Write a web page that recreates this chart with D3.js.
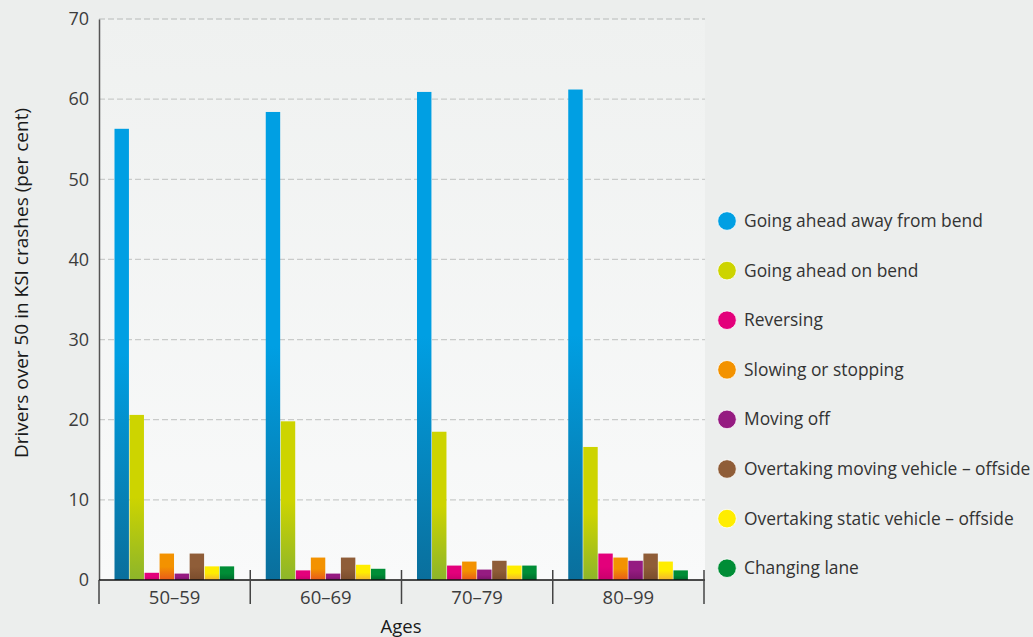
<!DOCTYPE html>
<html>
<head>
<meta charset="utf-8">
<script src="https://cdn.jsdelivr.net/npm/d3@7"></script>
<style>
  html, body { margin: 0; padding: 0; background: #eceeed; }
  svg { display: block; font-family: "Open Sans", "Noto Sans", sans-serif; }
</style>
</head>
<body>
<svg id="chart" width="1033" height="637"></svg>
<script>
// Age bands on the x axis
const ageGroups = ["50–59", "60–69", "70–79", "80–99"];

// Manoeuvre types (one bar each per age band)
const manoeuvres = [
  "Going ahead away from bend",
  "Going ahead on bend",
  "Reversing",
  "Slowing or stopping",
  "Moving off",
  "Overtaking moving vehicle – offside",
  "Overtaking static vehicle – offside",
  "Changing lane"
];

// Per cent of drivers over 50 in KSI crashes, one array per manoeuvre (by age band)
const goingAheadAway   = [56.3, 58.4, 60.9, 61.2];
const goingAheadBend   = [20.6, 19.8, 18.5, 16.6];
const reversing        = [0.9, 1.2, 1.8, 3.3];
const slowingStopping  = [3.3, 2.8, 2.3, 2.8];
const movingOff        = [0.8, 0.8, 1.3, 2.4];
const overtakingMoving = [3.3, 2.8, 2.4, 3.3];
const overtakingStatic = [1.7, 1.9, 1.8, 2.3];
const changingLane     = [1.7, 1.4, 1.8, 1.2];

const seriesValues = [
  goingAheadAway, goingAheadBend, reversing, slowingStopping,
  movingOff, overtakingMoving, overtakingStatic, changingLane
];

const yTicks = [0, 10, 20, 30, 40, 50, 60, 70];

// Fill colours: top colour and darker base colour for each series
const topColours    = ["#009fe3", "#cdd400", "#e3007b", "#f39200", "#951b81", "#8f5d38", "#ffed00", "#008d36"];
const bottomColours = ["#0a6f9c", "#8db52a", "#c8006c", "#e85a1a", "#7a1468", "#7a4c2c", "#f2b434", "#006b2d"];

const svg = d3.select("#chart");
const x0 = 99, x1 = 705, yTop = 19, yBot = 580;

const defs = svg.append("defs");

// Plot background: soft vertical gradient
const bg = defs.append("linearGradient").attr("id", "plotBg")
  .attr("x1", 0).attr("y1", 0).attr("x2", 0).attr("y2", 1);
bg.append("stop").attr("offset", "0%").attr("stop-color", "#eff1f0");
bg.append("stop").attr("offset", "100%").attr("stop-color", "#f9fafa");

manoeuvres.forEach((m, i) => {
  const g = defs.append("linearGradient").attr("id", "barGrad" + i)
    .attr("x1", 0).attr("y1", 0).attr("x2", 0).attr("y2", 1);
  g.append("stop").attr("offset", "0%").attr("stop-color", topColours[i]);
  g.append("stop").attr("offset", "50%").attr("stop-color", topColours[i]);
  g.append("stop").attr("offset", "100%").attr("stop-color", bottomColours[i]);
});

svg.append("rect")
  .attr("x", x0).attr("y", yTop)
  .attr("width", x1 - x0).attr("height", yBot - yTop)
  .attr("fill", "url(#plotBg)");

const y = d3.scaleLinear().domain([0, 70]).range([yBot, yTop]);

const xGroup = d3.scaleBand().domain(ageGroups).range([x0, x1 - 1]).padding(0);
const xInner = d3.scaleBand().domain(manoeuvres)
  .range([15.5, xGroup.bandwidth() - 15.5]).padding(0);

// Dashed gridlines
svg.append("g")
  .selectAll("line")
  .data(yTicks.filter(t => t > 0))
  .join("line")
  .attr("x1", x0).attr("x2", x1)
  .attr("y1", d => y(d)).attr("y2", d => y(d))
  .attr("stroke", "#c9cbca")
  .attr("stroke-width", 1.3)
  .attr("stroke-dasharray", "6,3");

// Bars
const groups = svg.append("g")
  .selectAll("g")
  .data(ageGroups)
  .join("g")
  .attr("transform", d => `translate(${xGroup(d)},0)`);

groups.selectAll("rect")
  .data((d, gi) => manoeuvres.map((m, si) => ({ m, si, v: seriesValues[si][gi] })))
  .join("rect")
  .attr("x", d => xInner(d.m))
  .attr("width", xInner.bandwidth() - 0.6)
  .attr("y", d => y(d.v))
  .attr("height", d => y(0) - y(d.v))
  .attr("fill", d => `url(#barGrad${d.si})`);

// Y axis
const yAxis = d3.axisLeft(y).tickValues(yTicks).tickSize(0).tickPadding(10);
const yg = svg.append("g").attr("transform", `translate(${x0},0)`).call(yAxis);
yg.select(".domain").attr("stroke", "#555").attr("stroke-width", 1.5);
yg.selectAll("text")
  .attr("font-size", 18).attr("fill", "#3c3c3c")
  .attr("font-family", "'Open Sans', 'Noto Sans', sans-serif");

// X axis baseline
svg.append("line")
  .attr("x1", x0).attr("x2", x1)
  .attr("y1", yBot).attr("y2", yBot)
  .attr("stroke", "#111").attr("stroke-width", 1.5);

// Group separator ticks
const boundaries = ageGroups.map(g => xGroup(g)).concat([xGroup.range()[1]]);
svg.append("g")
  .selectAll("line")
  .data(boundaries)
  .join("line")
  .attr("x1", d => d).attr("x2", d => d)
  .attr("y1", (d, i) => i === 0 ? yBot : yBot - 10)
  .attr("y2", 604)
  .attr("stroke", "#444").attr("stroke-width", 1.5);

// Age band labels
svg.append("g")
  .selectAll("text")
  .data(ageGroups)
  .join("text")
  .attr("x", d => xGroup(d) + xGroup.bandwidth() / 2)
  .attr("y", 604)
  .attr("text-anchor", "middle")
  .attr("font-size", 18.5)
  .attr("fill", "#3c3c3c")
  .text(d => d);

// Axis titles
svg.append("text")
  .attr("x", 401)
  .attr("y", 633)
  .attr("text-anchor", "middle")
  .attr("font-size", 18.5)
  .attr("fill", "#1a1a1a")
  .text("Ages");

svg.append("text")
  .attr("transform", `translate(28,283) rotate(-90)`)
  .attr("text-anchor", "middle")
  .attr("font-size", 19)
  .attr("fill", "#1a1a1a")
  .text("Drivers over 50 in KSI crashes (per cent)");

// Legend
const legend = svg.append("g").attr("transform", "translate(727,221)");
const legendStep = 49.6;
const items = legend.selectAll("g")
  .data(manoeuvres)
  .join("g")
  .attr("transform", (d, i) => `translate(0,${i * legendStep})`);
items.append("circle")
  .attr("r", 9.3)
  .attr("fill", (d, i) => topColours[i])
  .attr("stroke", "#ffffff").attr("stroke-width", 0.8);
items.append("text")
  .attr("x", 17)
  .attr("dy", "0.35em")
  .attr("font-size", 17.4)
  .attr("fill", "#333333")
  .text(d => d);
</script>
</body>
</html>
